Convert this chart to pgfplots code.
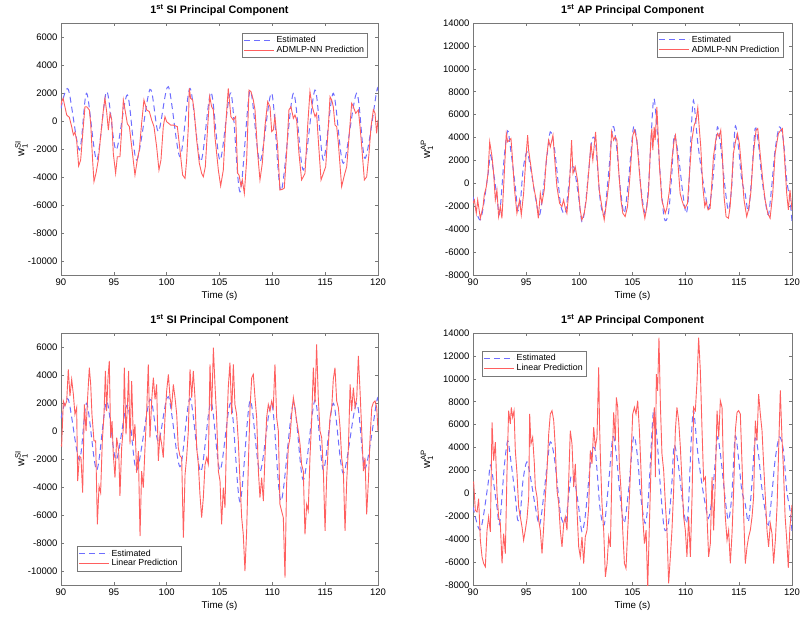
\documentclass[border=0pt]{standalone}
\usepackage{pgfplots}
\pgfplotsset{compat=1.18}
\usepackage{pgfplotstable}
\usepackage{amsmath}
\usepackage{fontspec}
\setmainfont{Liberation Sans}
\definecolor{estc}{RGB}{110,110,255}
\definecolor{predc}{RGB}{255,95,95}
\definecolor{axc}{RGB}{120,120,120}

% SI estimated (same in both SI panels)
\pgfplotstableread{
t v
90.00 900
90.69 2260
91.74 -2070
92.43 1980
93.38 -2790
94.32 2100
95.21 -2070
96.28 1860
97.16 -2790
98.42 2260
99.21 -760
100.16 2450
101.26 -2550
102.21 2330
103.22 -2900
104.19 2050
105.05 -2800
106.08 2000
106.94 -5050
107.89 2170
108.83 -2900
109.94 1980
110.82 -5000
111.99 1980
112.93 -3500
114.04 2210
114.83 -2790
115.77 1980
116.72 -3020
117.98 1980
118.77 -2670
119.87 2100
120.00 2000
}\siest

% AP estimated (same in both AP panels)
\pgfplotstableread{
t v
90.00 -1160
90.69 -3190
91.38 580
91.63 2465
91.88 1305
92.25 -1160
92.51 -2610
92.94 2320
93.26 4580
93.51 3190
93.98 -290
94.20 -2320
94.45 -1740
94.70 1100
95.07 2755
95.45 1160
95.86 -1160
96.26 -2755
96.64 -290
96.95 2320
97.27 4495
97.64 3190
98.05 -290
98.27 -2030
98.68 -2610
98.99 -290
99.21 1450
99.52 1305
99.93 -1160
100.24 -3335
100.55 -2030
100.87 1015
101.18 3770
101.49 3770
101.71 1450
101.96 -1450
102.34 -2755
102.75 870
103.15 4930
103.47 3480
103.84 -290
104.22 -2610
104.63 290
105.10 4930
105.47 3190
105.78 -290
106.19 -2610
106.50 -290
106.97 7250
107.29 4930
107.60 870
107.98 -3045
108.38 -2610
108.70 870
108.92 4205
109.33 2320
109.73 -870
110.04 -2610
110.26 -1160
110.48 3770
110.73 7250
111.11 3770
111.52 870
111.83 -870
112.14 -2175
112.46 -580
112.77 2610
112.99 4930
113.30 3190
113.71 -435
114.02 -2320
114.33 -290
114.65 4930
114.96 3190
115.27 290
115.59 -870
115.90 -2465
116.21 580
116.53 4785
116.84 3480
117.15 580
117.47 -1450
117.78 -2755
118.09 -290
118.41 2900
118.81 4930
119.19 3770
119.50 290
119.81 -1450
120.00 -3335
}\apest

% SI ADMLP-NN prediction
\pgfplotstableread{
t v
90.00 1100
90.06 1380
90.20 1620
90.54 430
90.79 260
91.01 -400
91.17 -1000
91.32 -800
91.48 -1360
91.67 -3210
91.86 -2790
92.11 -400
92.27 1020
92.43 1020
92.68 790
92.81 -170
92.99 -2790
93.12 -4330
93.31 -3740
93.53 -2790
93.75 -1120
94.01 790
94.16 1620
94.32 670
94.48 -640
94.64 550
94.80 100
94.95 -2310
95.17 -3740
95.33 -2550
95.58 -2550
95.74 -640
95.90 1500
96.06 790
96.28 -200
96.47 -400
96.69 -1830
97.00 -3860
97.22 -2790
97.41 -2070
97.63 -170
97.85 1500
98.11 790
98.36 670
98.58 70
98.80 -400
99.05 -1830
99.27 -3500
99.46 -2790
99.68 -400
99.84 310
100.00 -50
100.38 -290
100.63 -290
101.01 -400
101.26 -2070
101.51 -3860
101.74 -4100
101.89 -2790
102.05 -400
102.14 2330
102.27 1620
102.46 1500
102.59 790
102.84 -1360
103.09 -3020
103.31 -3740
103.47 -3980
103.66 -3260
103.88 -400
104.07 1740
104.26 1020
104.42 790
104.57 -1120
104.89 -3500
105.11 -4640
105.36 -3500
105.58 -400
105.83 2330
106.08 310
106.31 70
106.53 310
106.72 -3740
106.85 -3860
107.04 -4690
107.16 -4210
107.35 -5170
107.57 -2790
107.79 2210
107.98 2100
108.20 1500
108.36 790
108.61 -2310
108.83 -4210
109.05 -3020
109.30 -400
109.56 1380
109.78 1020
109.94 -760
110.09 -640
110.25 310
110.50 -1830
110.72 -4930
110.94 -4880
111.13 -4810
111.35 -2310
111.57 790
111.76 1020
111.99 190
112.14 430
112.30 70
112.52 -2310
112.77 -4210
112.93 -3980
113.09 -3740
113.34 -400
113.56 2100
113.78 1020
114.04 310
114.19 550
114.35 -1360
114.61 -4210
114.83 -3740
115.05 -3260
115.30 -400
115.46 1740
115.62 1500
115.77 1020
115.93 -290
116.09 -400
116.25 -1600
116.56 -4690
116.82 -3860
117.04 -3260
117.26 -1120
117.51 1260
117.67 1020
117.89 550
118.14 790
118.30 -400
118.46 -1830
118.71 -4210
118.93 -3980
119.15 -2310
119.34 -400
119.56 790
119.72 550
119.87 -880
120.00 70
}\sinn

% AP ADMLP-NN prediction
\pgfplotstableread{
t v
90.00 -1740
90.13 -1450
90.31 -2610
90.44 -1450
90.69 -3045
90.94 -2030
91.06 -1015
91.25 -290
91.41 870
91.57 3625
91.79 2320
91.94 870
92.10 -1450
92.25 -580
92.41 -2900
92.57 -2030
92.72 -3045
92.88 -290
93.13 4350
93.26 3625
93.41 3770
93.57 3915
93.70 2320
93.88 -290
94.13 -2610
94.38 -1450
94.54 -2755
94.76 -870
94.98 2320
95.14 4205
95.23 2900
95.45 1450
95.70 -290
95.95 -1450
96.14 -3045
96.33 -870
96.48 -1740
96.70 -580
96.89 2030
97.11 3770
97.27 3190
97.52 4205
97.64 2610
97.89 -290
98.14 -1740
98.36 -2030
98.52 -1450
98.68 -2175
98.83 -2610
99.08 0
99.27 3770
99.40 870
99.61 1450
99.83 290
100.08 -2320
100.24 -3190
100.46 -2610
100.65 -1450
100.87 870
101.09 3480
101.27 2030
101.53 4495
101.65 2610
101.87 -580
102.12 -2030
102.34 -3190
102.59 -1450
102.84 580
103.03 4495
103.22 3770
103.37 4060
103.53 3770
103.72 870
103.91 -1450
104.09 -2610
104.31 -2900
104.53 -2030
104.78 870
105.03 4205
105.19 4640
105.41 3770
105.66 870
105.91 -1740
106.16 -3045
106.35 -2030
106.50 -870
106.72 3770
106.82 4785
106.91 2900
107.04 4930
107.13 3770
107.29 6670
107.38 4930
107.54 1450
107.76 -1450
108.08 -2610
108.23 -2175
108.48 -580
108.70 2030
108.92 3770
109.04 4205
109.23 2320
109.48 -870
109.64 -1450
109.79 -1885
109.95 -2175
110.17 -1740
110.36 870
110.58 3770
110.80 5075
110.98 5510
111.14 6610
111.27 4930
111.42 3190
111.61 -290
111.80 -2030
111.92 -1595
112.11 -2320
112.30 -2175
112.46 0
112.61 2320
112.83 3770
112.99 4350
113.14 4060
113.30 4640
113.46 2320
113.61 -1160
113.80 -2900
114.02 -3045
114.18 -2030
114.33 0
114.49 2610
114.71 3770
114.87 4350
115.05 3480
115.27 1160
115.49 -1450
115.74 -2900
115.90 -2320
116.12 -870
116.37 2610
116.62 4640
116.78 4785
117.00 2610
117.25 290
117.47 -1450
117.72 -2610
117.94 -3045
118.19 -870
118.41 2610
118.72 4350
118.94 4640
119.09 4785
119.25 2900
119.50 -870
119.66 -2320
119.81 -580
120.00 -2320
}\apnn

% SI linear prediction
\pgfplotstableread{
t v
90.00 -1000
90.06 -1070
90.22 2140
90.38 1790
90.54 2140
90.69 4400
90.85 2500
91.01 3690
91.17 2620
91.32 1190
91.48 1670
91.58 -3570
91.74 -1790
91.89 -1900
92.05 -4400
92.21 1900
92.37 0
92.52 2380
92.68 4520
92.81 3330
92.93 1190
93.12 -710
93.28 -710
93.44 -6670
93.60 -3930
93.75 -4400
93.91 -710
94.07 1190
94.20 4290
94.32 1430
94.45 3810
94.57 5000
94.70 -480
94.83 710
94.95 -1670
95.11 -3330
95.27 -480
95.46 -1430
95.58 -4640
95.74 -1190
95.90 240
95.99 4520
96.15 -240
96.28 1670
96.40 4290
96.53 -950
96.69 3570
96.85 -710
97.00 480
97.16 -2980
97.32 -1430
97.48 -7500
97.63 -2860
97.79 -4050
97.95 -1190
98.11 1430
98.26 4760
98.42 -480
98.58 2140
98.74 3810
98.90 2260
99.05 3330
99.21 -2140
99.37 -240
99.53 -950
99.68 -1900
99.84 950
100.00 2860
100.16 4050
100.32 2380
100.47 1670
100.63 3330
100.79 2380
100.95 1190
101.10 -1190
101.26 -1790
101.42 -1900
101.58 -7620
101.74 -3100
101.89 -1900
102.05 0
102.21 4400
102.37 2380
102.52 4290
102.68 2380
102.84 -1190
103.00 -2380
103.15 -4520
103.31 -6190
103.47 -4760
103.63 -2400
103.79 -1900
103.94 -2380
104.10 4760
104.26 1430
104.42 5950
104.57 3330
104.73 950
104.89 -2860
105.05 -3570
105.20 -6670
105.36 -4050
105.52 -5480
105.68 0
105.83 3100
105.99 4880
106.15 1190
106.31 4760
106.46 1900
106.62 1190
106.78 -710
106.94 -3570
107.10 -6190
107.25 -7380
107.41 -10000
107.57 -7140
107.73 -2380
107.89 1670
108.05 3810
108.20 4050
108.36 2380
108.52 950
108.68 -2860
108.83 -4760
108.99 -3330
109.15 -5000
109.30 -1900
109.46 950
109.62 1900
109.78 1430
109.94 2140
110.09 1670
110.25 4760
110.41 950
110.57 0
110.72 -5240
110.88 -5710
111.04 -6190
111.20 -10480
111.35 -3810
111.51 -1190
111.67 -480
111.83 1190
111.99 2380
112.14 1670
112.30 710
112.46 0
112.62 -950
112.77 -2380
112.93 -2860
113.09 -7380
113.25 -5240
113.40 -5710
113.56 -1900
113.72 710
113.88 4520
114.04 2020
114.19 6190
114.35 2380
114.51 0
114.67 -480
114.83 -2860
114.99 -7140
115.14 -3330
115.30 -950
115.46 950
115.62 1670
115.77 3690
115.93 4520
116.09 2140
116.25 1670
116.41 240
116.56 -1900
116.72 -2860
116.88 -7140
117.04 -3570
117.20 -1190
117.36 3330
117.51 1430
117.67 3100
117.83 1670
117.99 2380
118.14 5360
118.30 2860
118.46 0
118.62 -2860
118.77 -1900
118.93 -5950
119.09 -3570
119.25 -480
119.41 1670
119.56 2020
119.72 2140
119.88 1670
120.00 0
}\silin

% AP linear prediction
\pgfplotstableread{
t v
90.00 1000
90.06 990
90.22 -1480
90.38 -1620
90.53 -460
90.69 -4090
90.85 -5540
91.00 -6120
91.16 -6410
91.32 -3220
91.47 -2060
91.63 -3360
91.79 6200
91.94 2870
92.10 4470
92.26 -30
92.41 -2060
92.57 -2640
92.73 -6120
92.88 -3510
93.04 -5250
93.20 2000
93.35 7220
93.51 6060
93.60 7510
93.73 6640
93.86 7220
93.98 3740
94.14 1710
94.29 -1190
94.45 -2060
94.61 -2930
94.76 -4090
94.92 -3220
95.08 -2200
95.24 -320
95.33 6930
95.45 4320
95.61 4900
95.77 2580
95.86 550
96.02 -320
96.18 -2350
96.33 -3220
96.49 -5250
96.65 -2930
96.80 -320
96.96 2000
97.12 5190
97.27 6930
97.43 7220
97.59 6350
97.74 4030
97.90 260
98.06 -900
98.21 -3220
98.37 -4670
98.53 -2640
98.68 -2060
98.84 -3220
99.00 1130
99.15 5480
99.31 4320
99.47 550
99.62 2580
99.78 -1480
99.94 -4670
100.09 -5540
100.25 -3800
100.41 -6120
100.56 -3800
100.72 -3220
100.88 -1190
101.03 3740
101.19 2580
101.35 5770
101.50 4030
101.66 4900
101.82 10990
101.90 6000
101.98 3160
102.13 -900
102.29 -3220
102.45 -7280
102.61 -6120
102.76 -3800
102.92 -4670
103.08 2580
103.23 7070
103.39 4610
103.48 8380
103.61 7510
103.76 2580
103.92 260
104.08 -3220
104.24 -6120
104.39 -6550
104.55 -3220
104.71 -320
104.86 3160
105.02 6930
105.18 7510
105.33 6930
105.49 8090
105.65 5480
105.80 2000
105.96 -2060
106.12 -4380
106.28 -3220
106.43 -8290
106.59 -2640
106.75 2580
106.90 5480
107.06 7510
107.15 1420
107.24 10410
107.36 8960
107.49 13600
107.62 7800
107.77 3450
107.93 2000
108.09 -900
108.24 -3220
108.40 -7860
108.56 -5540
108.71 -3220
108.87 260
109.03 5480
109.18 7510
109.34 6350
109.50 4030
109.65 1130
109.81 -2060
109.97 -3220
110.12 -5540
110.28 -2060
110.44 -5540
110.60 -320
110.75 7510
110.91 7220
111.07 9830
111.22 13600
111.38 10700
111.54 5480
111.69 1130
111.85 1420
112.01 -2060
112.16 -5540
112.32 -4380
112.48 1420
112.63 -3220
112.79 1130
112.95 7220
113.11 4900
113.26 8090
113.42 7510
113.57 1420
113.73 -2060
113.89 -4090
114.04 -3220
114.20 -6120
114.36 -3510
114.51 260
114.67 5480
114.83 7070
114.98 7220
115.14 6930
115.30 2580
115.45 -1770
115.61 -6120
115.77 -4670
115.92 -3800
116.08 -3220
116.24 -2060
116.39 -320
116.55 6350
116.71 4610
116.86 8670
117.02 6930
117.18 5480
117.33 2580
117.49 -320
117.65 -3220
117.80 -4670
117.96 -2640
118.12 -3510
118.27 -6120
118.44 -4000
118.60 -1000
118.75 4000
118.90 9000
119.05 5000
119.20 2000
119.35 -2000
119.50 -4000
119.65 -6500
119.80 -3000
120.00 -1000
}\aplin

\pgfplotsset{
  myax/.style={
    scale only axis, width=317pt, height=252pt,
    xmin=90, xmax=120, xtick={90,95,...,120},
    tick align=inside, major tick length=3pt,
    axis line style={axc}, tick style={axc, line width=0.5pt},
    every tick label/.append style={font=\fontsize{9.5}{10}\selectfont},
    /pgf/number format/assume math mode=true,
    /pgf/number format/1000 sep={},
    scaled y ticks=false,
    xlabel={Time (s)},
    xlabel style={font=\fontsize{9.8}{11}\selectfont, yshift=1pt},
    ylabel style={font=\fontsize{11}{12}\selectfont, anchor=center},
    title style={font=\bfseries\fontsize{10.8}{12}\selectfont, yshift=-2pt},
    legend style={font=\fontsize{8.8}{10}\selectfont, draw=axc, inner sep=1.5pt,
      row sep=-2pt, cells={anchor=west}},
    legend cell align=left,
  },
  leftax/.style={myax, width=317pt, ymin=-11000, ymax=7000,
    ytick={-10000,-8000,...,6000},
    ylabel={w$_{\text{1}}^{\text{SI}}$},
    ylabel style={at={(axis description cs:-0.125,0.5)}},
    title={1\textsuperscript{st} SI Principal Component}},
  rightax/.style={myax, width=319pt, ymin=-8000, ymax=14000,
    ytick={-8000,-6000,...,14000},
    ylabel={w$_{\text{1}}^{\text{AP}}$},
    ylabel style={at={(axis description cs:-0.144,0.5)}},
    title={1\textsuperscript{st} AP Principal Component}},
  est/.style={color=estc, draw=estc, dash pattern=on 6pt off 4pt, line width=1pt, smooth, tension=0.5,
    legend image code/.code={\color{estc}\draw[draw=estc, dash pattern=on 6pt off 4pt, line width=1pt] (0pt,0pt) -- (30pt,0pt);}},
  pred/.style={color=predc, draw=predc, line width=0.9pt,
    legend image code/.code={\color{predc}\draw[draw=predc, line width=1pt] (0pt,0pt) -- (30pt,0pt);}},
}

\begin{document}
\begin{tikzpicture}
\useasboundingbox (0pt,0pt) rectangle (800pt,-618pt);

\begin{axis}[leftax, at={(61pt,-275pt)}, anchor=south west,
  legend style={at={(0.968,0.962)}, anchor=north east}]
\addplot[est] table[x=t,y=v] {\siest};
\addlegendentry{Estimated}
\addplot[pred] table[x=t,y=v] {\sinn};
\addlegendentry{ADMLP-NN Prediction}
\end{axis}

\begin{axis}[rightax, at={(473pt,-275pt)}, anchor=south west,
  legend style={at={(0.972,0.964)}, anchor=north east}]
\addplot[est] table[x=t,y=v] {\apest};
\addlegendentry{Estimated}
\addplot[pred] table[x=t,y=v] {\apnn};
\addlegendentry{ADMLP-NN Prediction}
\end{axis}

\begin{axis}[leftax, at={(61pt,-585pt)}, anchor=south west,
  legend style={at={(0.05,0.055)}, anchor=south west}]
\addplot[est] table[x=t,y=v] {\siest};
\addlegendentry{Estimated}
\addplot[pred] table[x=t,y=v] {\silin};
\addlegendentry{Linear Prediction}
\end{axis}

\begin{axis}[rightax, at={(473pt,-585pt)}, anchor=south west,
  legend style={at={(0.028,0.929)}, anchor=north west}]
\addplot[est] table[x=t,y=v] {\apest};
\addlegendentry{Estimated}
\addplot[pred] table[x=t,y=v] {\aplin};
\addlegendentry{Linear Prediction}
\end{axis}
\end{tikzpicture}
\end{document}
